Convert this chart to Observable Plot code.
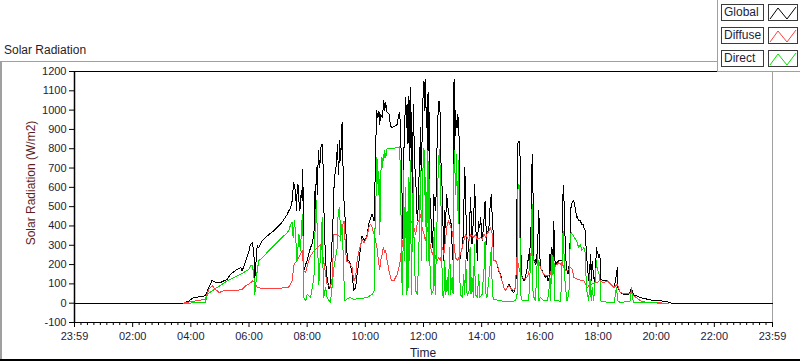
<!DOCTYPE html>
<html>
<head>
<meta charset="utf-8">
<script src="https://cdn.jsdelivr.net/npm/d3@7"></script>
<script src="https://cdn.jsdelivr.net/npm/@observablehq/plot@0.6"></script>
<style>
  html, body { margin: 0; padding: 0; background: #fff; }
  body { font-family: "Liberation Sans", Arial, sans-serif; }
  #wrap { position: relative; width: 800px; height: 361px; overflow: hidden; background: #fff; }
  #chart { position: absolute; left: 0; top: 0; }
  .fr { position: absolute; }
  #title { position: absolute; left: 4px; top: 43px; font-size: 12px; color: #2a1c1c; white-space: nowrap; }
  #ylabel { position: absolute; left: 31px; top: 183px; transform: translate(-50%, -50%) rotate(-90deg); font-size: 12px; color: #5e1e1e; white-space: nowrap; }
  #xlabel { position: absolute; left: 423px; top: 353px; transform: translate(-50%, -50%); font-size: 12px; color: #1c1c3c; white-space: nowrap; }
  #legend { position: absolute; left: 717px; top: 0; width: 83px; height: 71px; background: #fff; border-left: 1px solid #a0a0a0; border-bottom: 1px solid #a0a0a0; }
  .lab { position: absolute; left: 3px; width: 39px; height: 15px; border: 1px solid #3a3a3a; font-size: 12px; line-height: 15px; padding-left: 2px; color: #1c1c3c; background: #fff; }
  .sym { position: absolute; left: 50px; width: 28px; height: 15px; border: 1px solid #3a3a3a; background: #fff; }
  .sym svg { display: block; }
  g[aria-label="y-axis tick label"], g[aria-label="x-axis tick label"] { fill: #1c1c3c; }
  g[aria-label="line"] path { shape-rendering: crispEdges; }
</style>
</head>
<body>
<div id="wrap">
  <div id="chart"></div>
  <div class="fr" style="left:0;top:61px;width:717px;height:1px;background:#a0a0a0"></div>
  <div class="fr" style="left:0;top:61px;width:2px;height:299px;background:#a0a0a0"></div>
  <div class="fr" style="left:0;top:359px;width:800px;height:2px;background:#000"></div>
  <div id="title">Solar Radiation</div>
  <div id="ylabel">Solar Radiation (W/m2)</div>
  <div id="xlabel">Time</div>
  <div id="legend"></div>
</div>
<script>
// ---- axis definitions ----
const yDomain = [-100, 1200];
const yTicks = [-100, 0, 100, 200, 300, 400, 500, 600, 700, 800, 900, 1000, 1100, 1200];
const xDomain = [-1, 1439]; // minutes from midnight (23:59 .. 23:59)
const xTickLabels = ["23:59", "02:00", "04:00", "06:00", "08:00", "10:00", "12:00", "14:00", "16:00", "18:00", "20:00", "22:00", "23:59"];

// ---- series names / colours ----
const seriesNames = ["Global", "Diffuse", "Direct"];
const seriesColors = ["#000000", "#ff4040", "#00e000"];

// ---- Global radiation (minutes, W/m2) ----
const globalMin = [-1,225,235,245,269,276,283,290,300,314,321,335,342,345,352,359,362,366,369,371,375,376,379,386,397,410,424,434,438,441,445,448,451,455,457,458,460,462,464,467,469,470,471,472,476,479,482,486,489,493,495,496,498,500,502,503,505,507,509,511,513,515,517,520,524,526,527,531,533,535,537,540,541,544,546,548,550,551,553,555,558,560,562,565,568,572,575,579,582,586,589,592,596,599,603,606,610,613,617,620,622,625,627,629,630,634,636,637,639,641,643,644,648,650,651,654,661,665,668,670,672,673,675,677,678,680,682,684,685,687,689,691,692,694,696,698,699,700,703,705,707,709,711,713,714,716,718,720,721,723,725,727,728,730,732,734,735,737,739,740,744,746,747,749,751,753,754,755,758,760,761,762,764,767,768,771,775,777,778,780,782,783,785,787,789,790,792,794,795,799,801,804,806,808,809,813,816,817,819,823,825,826,828,830,832,835,837,840,842,844,846,847,849,850,854,857,859,861,863,864,868,871,874,878,881,885,888,892,895,899,902,905,909,911,912,914,916,918,919,921,923,926,929,933,936,938,940,942,943,945,947,950,952,953,955,957,959,960,964,967,971,974,976,978,980,981,984,986,988,989,991,998,1005,1007,1008,1010,1012,1014,1015,1017,1019,1021,1022,1024,1028,1030,1033,1035,1036,1039,1043,1045,1048,1050,1053,1055,1057,1058,1060,1062,1064,1065,1067,1069,1072,1074,1076,1077,1079,1081,1083,1084,1091,1098,1105,1112,1115,1117,1119,1120,1125,1132,1143,1146,1148,1150,1153,1167,1187,1208,1222,1229,1230,1439];
const globalVal = [0,0,12,29,38,81,119,107,107,124,150,176,185,167,219,271,305,314,262,124,271,297,288,323,349,375,409,444,461,478,495,530,625,582,478,565,616,530,478,582,530,694,478,167,202,219,254,288,305,357,582,478,703,565,789,755,703,806,824,824,530,357,219,133,72,81,150,357,478,651,677,737,824,668,841,737,875,936,703,530,409,323,219,219,202,150,64,81,150,219,288,349,331,323,357,409,443,461,426,737,996,962,996,927,979,962,1014,1048,996,1039,996,988,979,936,918,910,918,927,979,988,858,772,530,305,737,910,1065,910,1031,824,1074,737,1117,910,564,1031,962,737,651,478,426,599,737,910,685,841,1065,1152,996,1160,910,1083,737,1091,564,478,392,288,392,564,478,651,823,979,1048,996,910,737,564,305,219,478,392,564,530,461,426,392,288,219,1160,737,996,910,979,910,962,219,253,288,357,702,564,271,219,323,547,478,305,478,616,392,357,219,426,392,443,323,374,443,530,495,305,357,392,530,564,426,357,219,219,202,167,150,115,81,64,81,98,81,64,55,81,184,564,832,841,806,392,150,133,115,133,184,253,219,392,288,772,564,219,202,254,202,340,478,254,185,167,150,133,141,116,133,254,150,288,150,426,254,202,219,219,599,608,426,254,185,167,150,185,254,461,513,530,521,478,444,452,426,426,409,409,392,375,254,202,167,116,185,254,116,219,167,98,185,288,271,254,236,254,124,116,116,98,81,116,150,185,81,55,47,47,64,81,55,43,29,17,12,8,2,0,0];

// ---- Diffuse radiation ----
const diffuseMin = [224,225,269,276,283,290,297,307,321,335,345,352,359,366,371,376,386,424,441,448,452,458,465,469,472,476,482,486,493,500,507,510,513,520,527,531,534,541,548,551,555,558,560,565,572,575,579,582,586,589,592,596,599,603,606,610,613,617,620,623,627,629,630,634,636,639,641,644,648,651,654,658,661,665,668,670,673,675,677,678,682,685,689,692,696,699,703,706,709,713,716,720,723,727,730,734,737,740,744,747,751,754,758,761,764,768,771,775,778,782,785,789,792,795,799,802,806,809,813,816,823,826,830,837,840,844,847,850,854,857,861,864,868,871,878,885,888,895,899,905,909,911,916,919,923,929,936,940,943,947,953,957,960,967,974,981,984,986,991,998,1002,1005,1008,1014,1019,1022,1026,1029,1036,1043,1050,1053,1057,1060,1064,1070,1077,1084,1088,1091,1098,1105,1112,1119,1125,1139,1148,1153,1167,1180,1225];
const diffuseVal = [0,2,20,72,90,72,55,64,64,67,72,90,98,115,107,81,77,77,84,115,202,219,254,271,167,159,219,245,271,288,305,271,219,98,81,133,357,357,340,392,426,288,219,210,184,115,133,219,271,297,331,314,323,349,392,409,392,357,323,288,202,176,219,253,288,262,271,219,167,133,115,115,133,150,184,202,271,323,288,340,357,392,443,409,426,392,357,409,426,461,392,357,323,392,340,288,253,271,236,219,236,219,288,253,323,409,426,392,374,305,236,219,236,253,288,323,357,340,323,357,340,357,331,340,331,357,340,357,374,392,357,219,219,202,140,81,67,90,78,64,81,236,185,150,133,124,150,254,271,219,202,219,185,150,141,150,202,150,193,210,202,210,185,167,176,185,176,133,124,119,116,98,81,90,98,102,107,119,107,107,116,98,81,98,55,47,55,38,12,3,0];

// ---- Direct radiation ----
const directMin = [224,225,269,273,293,314,335,348,359,362,366,369,371,375,379,390,403,417,431,438,441,445,448,450,453,455,458,462,465,469,471,472,476,479,486,493,495,498,500,503,507,510,512,513,517,520,527,531,534,541,543,546,548,550,551,553,555,557,562,568,575,589,603,613,617,619,620,622,623,626,627,629,630,632,634,636,637,639,641,644,658,668,670,672,674,675,677,678,680,682,684,685,687,689,691,692,694,696,698,700,703,706,709,711,713,715,717,720,721,723,725,727,729,730,732,735,739,741,743,746,748,750,752,754,756,758,761,763,765,768,770,773,775,778,780,782,783,785,787,789,791,793,795,799,802,804,806,809,813,815,817,819,822,824,826,830,833,835,840,844,846,848,850,856,859,861,864,878,892,909,912,914,916,918,919,923,936,940,942,943,945,947,950,953,955,957,960,967,974,977,980,981,984,986,988,990,998,1002,1007,1008,1010,1012,1015,1019,1022,1024,1028,1035,1039,1043,1045,1050,1053,1055,1057,1060,1062,1065,1067,1070,1074,1076,1077,1081,1083,1084,1091,1105,1112,1115,1117,1120,1125,1146,1148,1150,1153,1225];
const directVal = [0,0,3,46,81,115,141,159,176,193,193,150,46,150,219,245,280,314,349,366,375,409,418,340,426,357,219,357,271,461,305,29,12,46,29,133,357,530,357,98,271,443,133,29,81,29,3,98,184,288,478,495,323,409,392,271,115,12,25,29,20,25,29,46,64,392,512,599,754,564,685,357,564,754,702,771,737,789,754,802,802,809,813,564,219,46,305,685,219,599,46,478,64,651,219,737,46,392,651,219,64,46,219,478,685,219,651,806,564,651,219,789,219,737,219,46,64,392,46,305,564,737,797,651,392,46,29,219,46,133,46,288,46,133,46,737,789,564,771,478,737,219,46,29,150,46,219,38,64,288,46,133,29,305,46,29,150,29,46,184,323,46,29,184,288,46,20,12,8,12,46,599,616,374,46,12,12,219,288,513,46,29,12,185,254,12,29,12,12,47,133,12,254,150,236,12,12,8,375,340,150,81,12,47,357,366,349,323,288,305,271,288,254,81,47,12,150,12,81,12,150,219,185,150,133,12,8,3,3,47,81,12,3,12,81,29,3,0];

// ---- build tables ----
const toRows = (mins, vals, name) => mins.map((m, i) => ({time: m, value: vals[i], series: name}));
const globalRows = toRows(globalMin, globalVal, seriesNames[0]);
const diffuseRows = toRows(diffuseMin, diffuseVal, seriesNames[1]);
const directRows = toRows(directMin, directVal, seriesNames[2]);

const majorTicks = xTickLabels.map((_, i) => xDomain[0] + 120 * i);
const minorTicks = d3.range(xDomain[0], xDomain[1] + 0.01, 120 / 9).filter((_, i) => i % 9 !== 0);

const chart = Plot.plot({
  width: 800,
  height: 361,
  marginLeft: 74,
  marginRight: 28,
  marginTop: 71,
  marginBottom: 39,
  style: {fontFamily: "'Liberation Sans', Arial, sans-serif", fontSize: "11px", background: "transparent", color: "#000", overflow: "visible"},
  x: {domain: xDomain},
  y: {domain: yDomain},
  marks: [
    Plot.frame({stroke: "#a0a0a0"}),
    Plot.line(globalRows, {x: "time", y: "value", stroke: seriesColors[0], strokeWidth: 1}),
    Plot.line(diffuseRows, {x: "time", y: "value", stroke: seriesColors[1], strokeWidth: 1}),
    Plot.line(directRows, {x: "time", y: "value", stroke: seriesColors[2], strokeWidth: 1}),
    Plot.ruleY([yDomain[1]], {stroke: "#000"}),
    Plot.ruleY([yDomain[0]], {stroke: "#000"}),
    Plot.ruleX([xDomain[0]], {stroke: "#000", strokeWidth: 1.5}),
    Plot.axisY({ticks: yTicks, tickFormat: d => String(d), tickSize: 5, tickPadding: 3, label: null, stroke: "#000"}),
    Plot.axisX({ticks: majorTicks, tickFormat: d => xTickLabels[majorTicks.indexOf(d)], tickSize: 5, tickPadding: 5, label: null, stroke: "#000"}),
    Plot.axisX({ticks: minorTicks, tickFormat: () => "", tickSize: 3, label: null, stroke: "#000"})
  ]
});
document.getElementById("chart").appendChild(chart);

// ---- legend ----
const legend = document.getElementById("legend");
const tops = [4, 27, 50];
seriesNames.forEach((name, i) => {
  const lab = document.createElement("div");
  lab.className = "lab";
  lab.style.top = tops[i] + "px";
  lab.textContent = name;
  legend.appendChild(lab);
  const sym = document.createElement("div");
  sym.className = "sym";
  sym.style.top = tops[i] + "px";
  sym.innerHTML = `<svg width="28" height="15"><polyline points="1,14 9,3 18,14 27,2" fill="none" stroke="${seriesColors[i]}" stroke-width="1"/></svg>`;
  legend.appendChild(sym);
});
</script>
</body>
</html>
